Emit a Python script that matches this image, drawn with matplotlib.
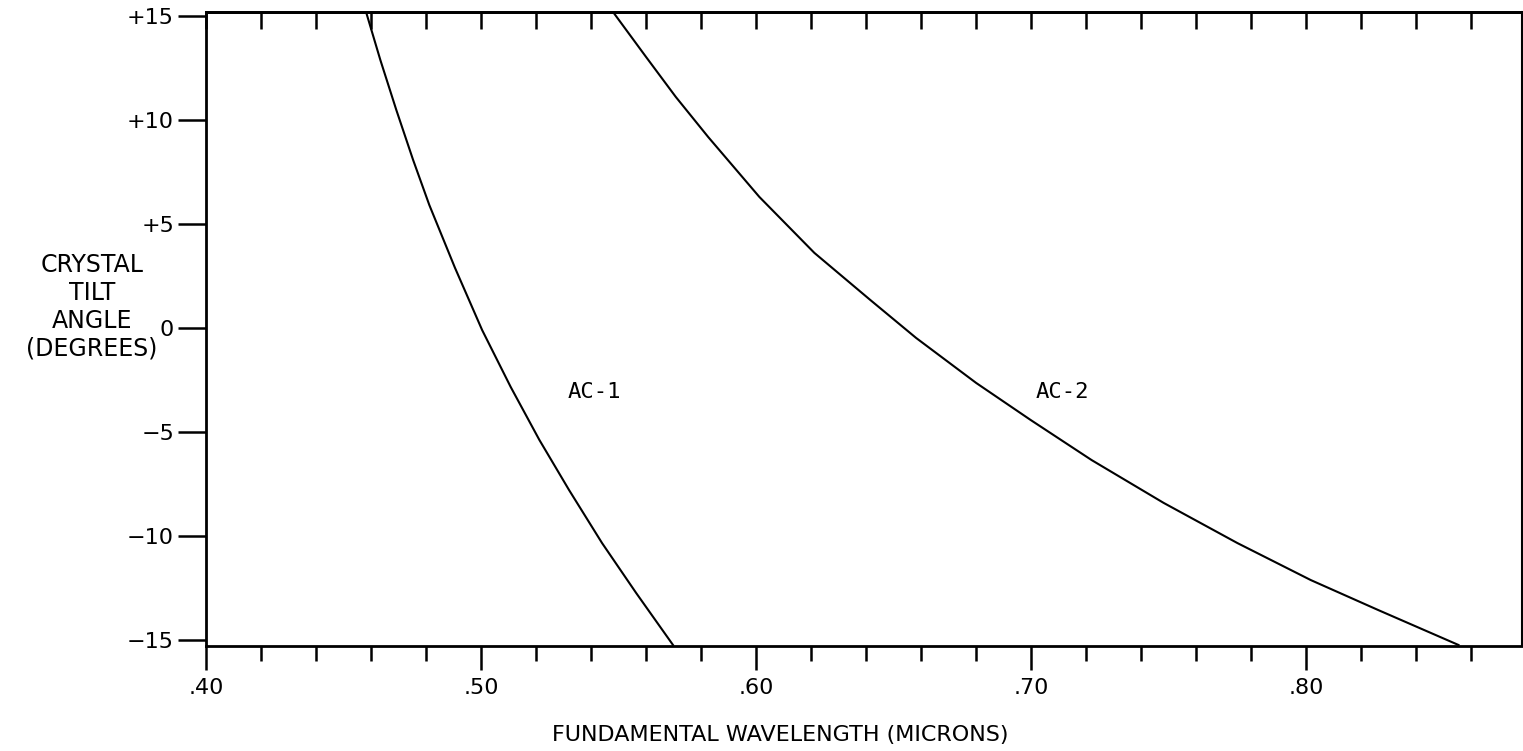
import numpy as np
import matplotlib
matplotlib.use("Agg")
import matplotlib.pyplot as plt
from matplotlib.ticker import MultipleLocator, FixedLocator

# ----------------------------
# Data
# ----------------------------
ac1_wavelength = [0.4582, 0.4634, 0.4692, 0.4753, 0.4812, 0.4905, 0.5004,
                  0.5108, 0.5212, 0.5320, 0.5440, 0.5564, 0.5698]
ac1_angle = [15.19, 12.88, 10.48, 8.08, 5.91, 2.90, -0.10,
             -2.84, -5.38, -7.79, -10.34, -12.74, -15.24]

ac2_wavelength = [0.5480, 0.5600, 0.5708, 0.5826, 0.6012, 0.6212, 0.6415,
                  0.6582, 0.6800, 0.6998, 0.7220, 0.7482, 0.7750, 0.8017,
                  0.8262, 0.8554]
ac2_angle = [15.19, 13.03, 11.11, 9.18, 6.30, 3.61, 1.35,
             -0.48, -2.64, -4.42, -6.35, -8.41, -10.34, -12.12,
             -13.56, -15.24]

x_major = [0.40, 0.50, 0.60, 0.70, 0.80]
x_labels = [".40", ".50", ".60", ".70", ".80"]
y_major = [15, 10, 5, 0, -5, -10, -15]
y_labels = ["+15", "+10", "+5", "0", "\u22125", "\u221210", "\u221215"]

curve_labels = ["AC-1", "AC-2"]
label_pos = [(0.5411, -3.1), (0.7113, -3.1)]

# ----------------------------
# Figure
# ----------------------------
W, H = 1523, 751
fig = plt.figure(figsize=(W / 100, H / 100), dpi=100)
ax = fig.add_axes([206 / W, 1 - 646 / H, (1522 - 206) / W, (646 - 12) / H])

ax.plot(ac1_wavelength, ac1_angle, color="black", lw=1.5)
ax.plot(ac2_wavelength, ac2_angle, color="black", lw=1.5)

for txt, (lx, ly) in zip(curve_labels, label_pos):
    ax.text(lx, ly, txt, fontsize=16, family="DejaVu Sans Mono",
            ha="center", va="center")

ax.set_xlim(0.40, 0.8785)
ax.set_ylim(-15.29, 15.19)

# spines
for side in ["left", "bottom", "top"]:
    ax.spines[side].set_linewidth(2.0)
ax.spines["right"].set_linewidth(1.5)

# bottom ticks (outward)
ax.xaxis.set_major_locator(FixedLocator(x_major))
ax.set_xticklabels(x_labels)
ax.xaxis.set_minor_locator(MultipleLocator(0.02))
ax.tick_params(axis="x", which="major", direction="out", length=17,
               width=1.8, pad=6, labelsize=16)
ax.tick_params(axis="x", which="minor", direction="out", length=11,
               width=1.8)

# top ticks (inward, no labels)
top = ax.secondary_xaxis("top")
top.xaxis.set_major_locator(MultipleLocator(0.02))
top.tick_params(direction="in", length=12, width=1.8, labeltop=False)
top.spines["top"].set_linewidth(2.0)

# left ticks
ax.yaxis.set_major_locator(FixedLocator(y_major))
ax.set_yticklabels(y_labels)
ax.tick_params(axis="y", direction="out", length=20, width=1.8, pad=3,
               labelsize=16)

fig.text(92 / W, 1 - 307 / H, "CRYSTAL\nTILT\nANGLE\n(DEGREES)",
         ha="center", va="center", multialignment="center",
         fontsize=17, linespacing=1.2)
fig.text(780 / W, 1 - 735 / H, "FUNDAMENTAL WAVELENGTH (MICRONS)",
         ha="center", va="center", fontsize=16)

fig.savefig("out.png", dpi=100)
